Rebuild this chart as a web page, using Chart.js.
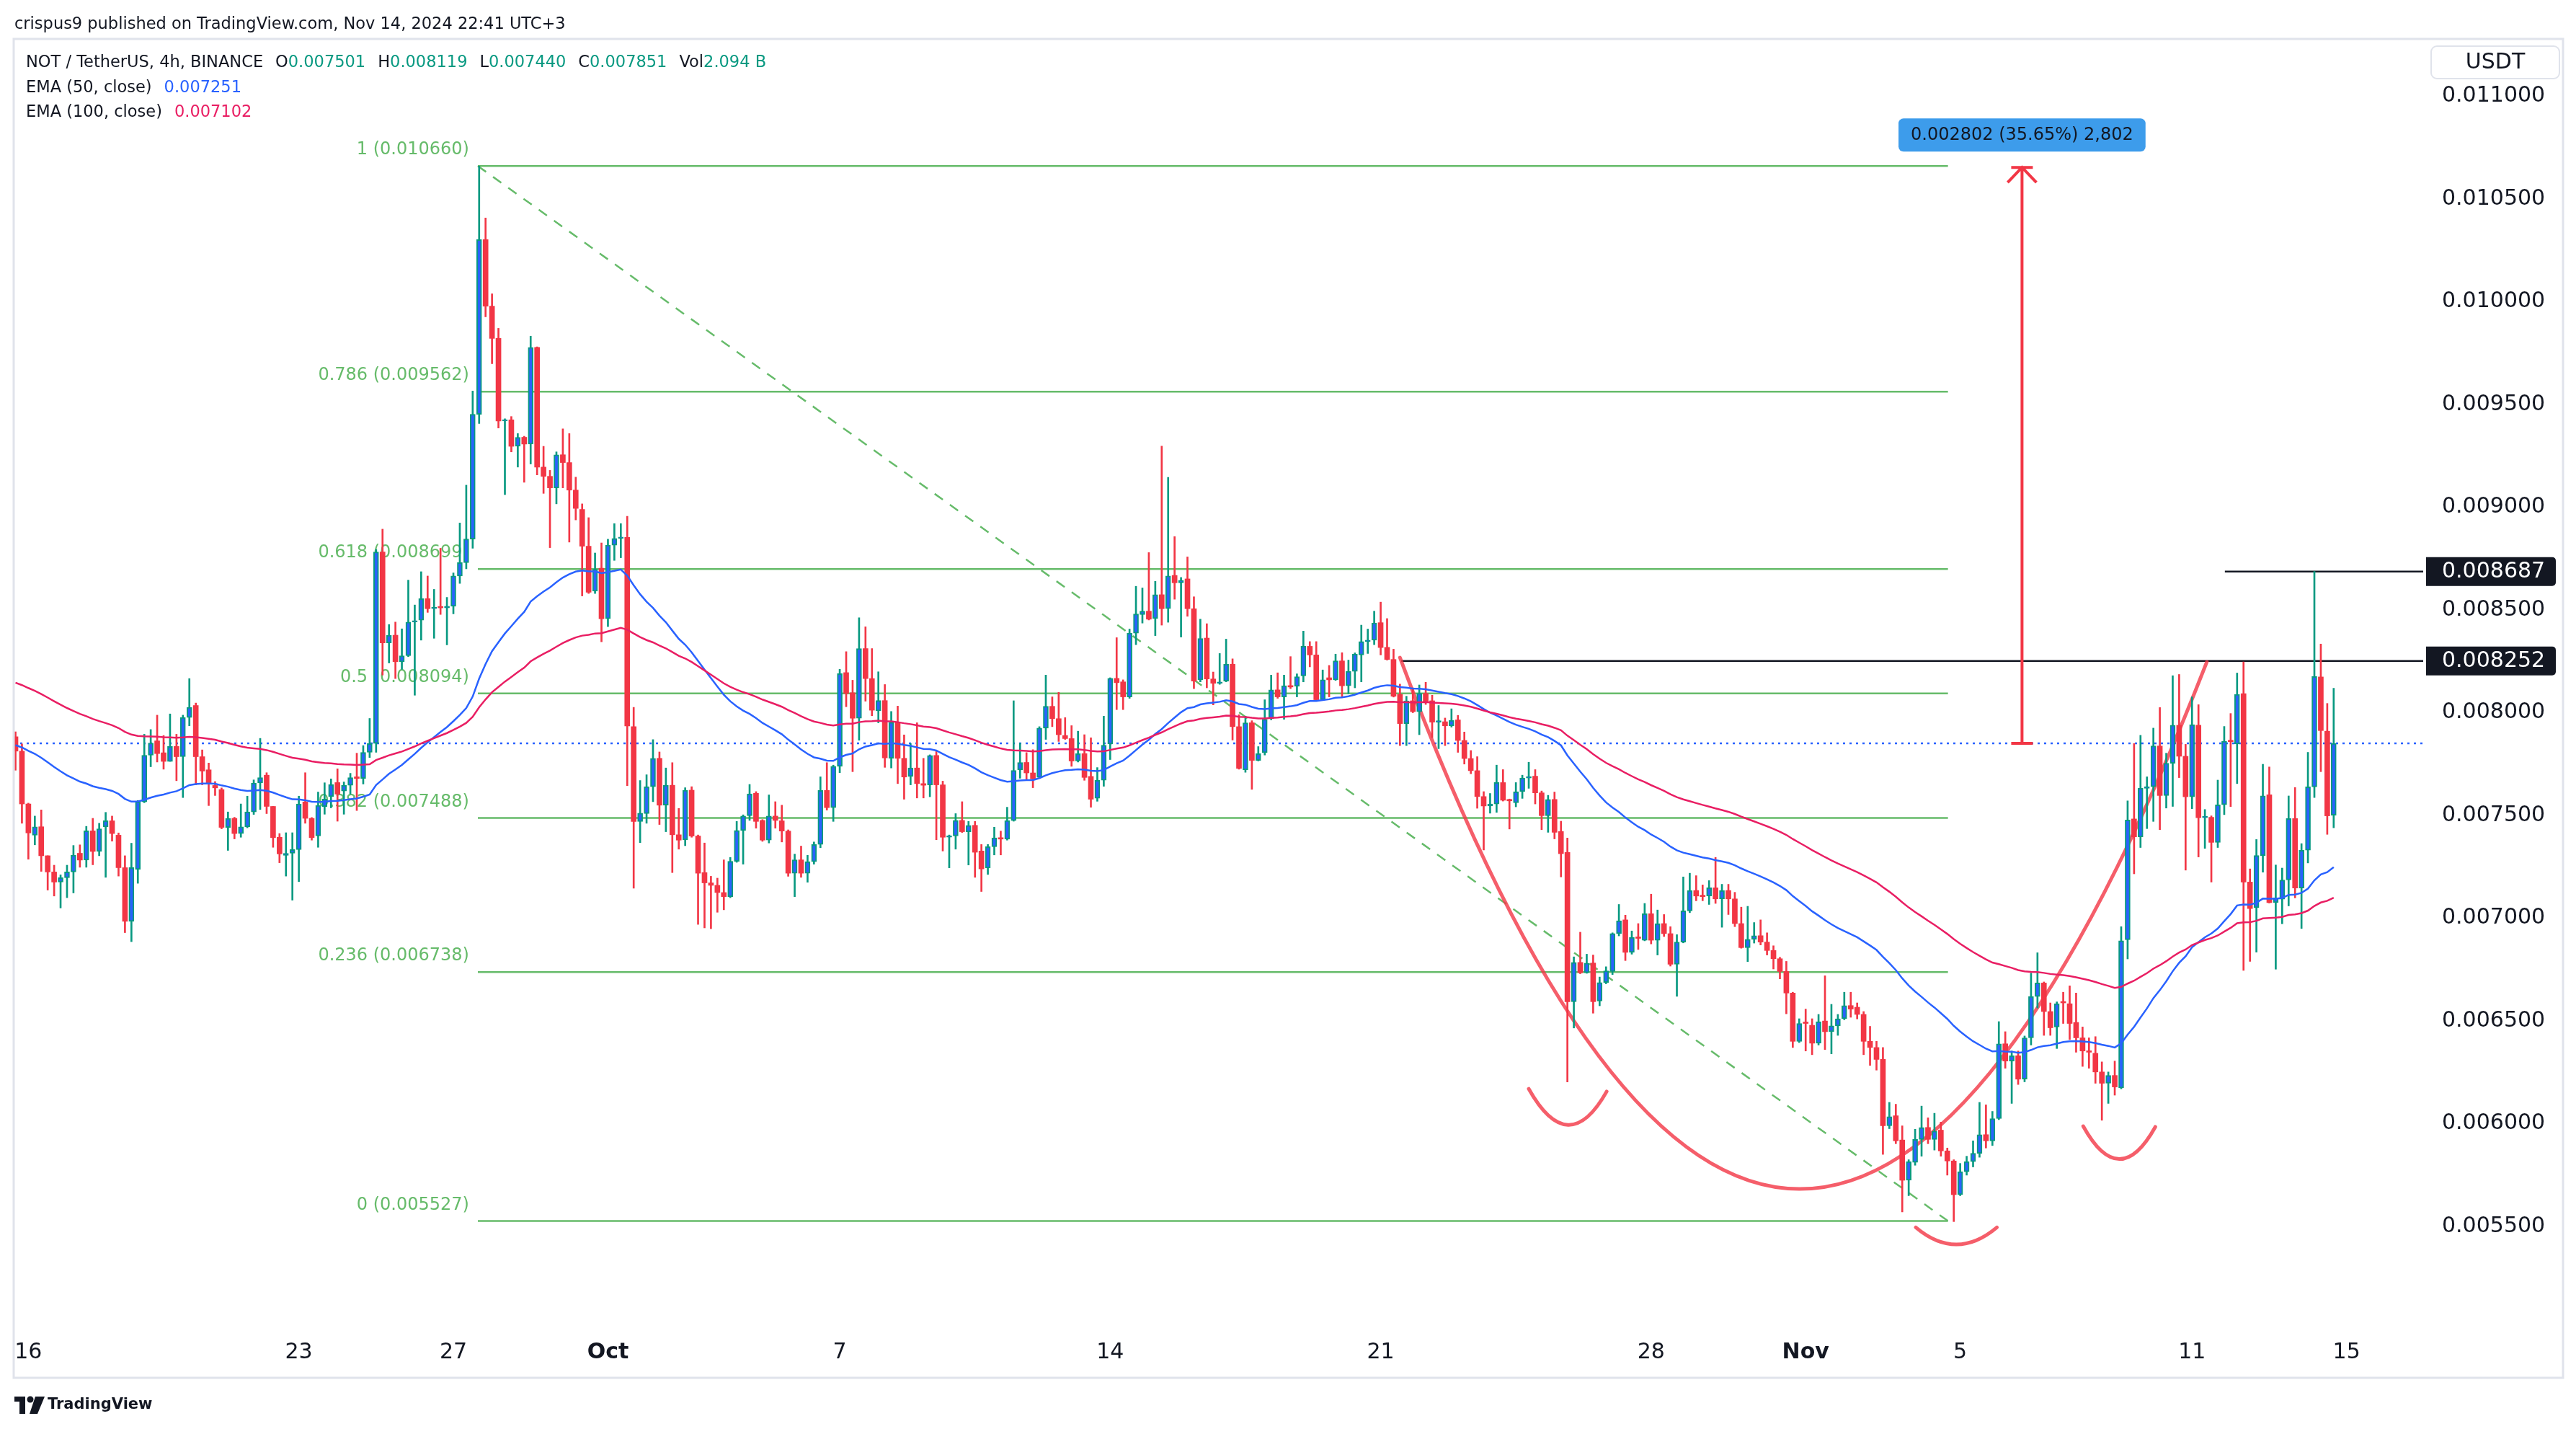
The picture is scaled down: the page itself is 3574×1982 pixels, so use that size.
<!DOCTYPE html>
<html>
<head>
<meta charset="utf-8">
<title>NOT / TetherUS, 4h</title>
<script src="https://cdn.jsdelivr.net/npm/chart.js@4.4.1/dist/chart.umd.min.js"></script>
<style>
  html, body { margin: 0; padding: 0; background: #ffffff; }
  #wrap { width: 3574px; height: 1982px; }
</style>
</head>
<body>
<div id="wrap"><canvas id="myChart" width="3574" height="1982"></canvas></div>
<script>
// 4h candles, prices in millionths of USDT (7851 = 0.007851)
const opens = [
  7883, 7813, 7556, 7404, 7445, 7304, 7225, 7176, 7197, 7225,
  7316, 7283, 7425, 7325, 7445, 7474, 7404, 7246, 6985, 7237,
  7566, 7793, 7863, 7805, 7763, 7836, 7786, 7977, 8035, 7786,
  7722, 7646, 7626, 7442, 7486, 7412, 7445, 7517, 7658, 7696,
  7544, 7394, 7306, 7316, 7334, 7566, 7486, 7400, 7543, 7592,
  7660, 7619, 7647, 7688, 7680, 7807, 7850, 8782, 8340, 8377,
  8248, 8277, 8441, 8450, 8555, 8506, 8512, 8510, 8518, 8665,
  8730, 8845, 9452, 10302, 9978, 9821, 9419, 9425, 9296, 9340,
  9307, 9777, 9195, 9150, 9094, 9255, 9217, 9083, 8989, 8810,
  8591, 8703, 8457, 8815, 8848, 8853, 7932, 7471, 7509, 7640,
  7778, 7550, 7647, 7406, 7382, 7623, 7400, 7222, 7172, 7160,
  7125, 7105, 7277, 7427, 7499, 7608, 7476, 7380, 7497, 7474,
  7424, 7219, 7284, 7219, 7275, 7359, 7622, 7538, 7739, 8195,
  8097, 7973, 8312, 8166, 8009, 8059, 7778, 7953, 7778, 7690,
  7731, 7655, 7649, 7792, 7649, 7394, 7400, 7476, 7421, 7452,
  7327, 7245, 7348, 7391, 7385, 7475, 7722, 7758, 7707, 7685,
  7925, 8031, 7971, 7889, 7874, 7765, 7801, 7690, 7584, 7671,
  7848, 8167, 8150, 8077, 8387, 8477, 8494, 8458, 8574, 8506,
  8668, 8632, 8651, 8506, 8160, 8363, 8164, 8143, 8154, 8236,
  7932, 7722, 7951, 7768, 7806, 7971, 8111, 8077, 8131, 8128,
  8179, 8323, 8281, 8063, 8170, 8160, 8252, 8131, 8201, 8281,
  8346, 8353, 8438, 8318, 8259, 8089, 7947, 8058, 8005, 8094,
  8058, 7954, 7956, 7936, 7965, 7865, 7777, 7718, 7592, 7546,
  7556, 7660, 7578, 7562, 7616, 7682, 7691, 7610, 7499, 7578,
  7422, 7320, 6594, 6785, 6735, 6782, 6597, 6687, 6741, 6925,
  6992, 6834, 6907, 6893, 7022, 6893, 6974, 6925, 6776, 6884,
  7036, 7135, 7110, 7108, 7148, 7094, 7135, 7094, 6974, 6857,
  6897, 6915, 6884, 6843, 6803, 6741, 6636, 6401, 6492, 6479,
  6392, 6500, 6448, 6476, 6511, 6575, 6567, 6532, 6401, 6371,
  6313, 5990, 6039, 5921, 5725, 5812, 5924, 5982, 5924, 5969,
  5868, 5819, 5655, 5767, 5816, 5856, 5947, 5917, 6025, 6389,
  6305, 6331, 6217, 6418, 6619, 6685, 6546, 6471, 6593, 6584,
  6493, 6418, 6354, 6343, 6252, 6197, 6235, 6174, 6895, 7483,
  7396, 7632, 7640, 7838, 7597, 7754, 7939, 7788, 7591, 7939,
  7489, 7491, 7369, 7552, 7866, 7848, 8093, 7176, 7051, 7305,
  7601, 7076, 7093, 7186, 7485, 7147, 7331, 7639, 8174, 7910,
  7501
];
const highs = [
  7907, 7848, 7560, 7497, 7527, 7304, 7258, 7211, 7258, 7354,
  7357, 7447, 7486, 7462, 7515, 7497, 7415, 7304, 7365, 7573,
  7895, 7918, 7988, 7889, 7994, 7895, 7988, 8166, 8047, 7819,
  7755, 7665, 7634, 7517, 7491, 7556, 7594, 7673, 7875, 7708,
  7544, 7412, 7416, 7416, 7594, 7708, 7490, 7614, 7659, 7678,
  7727, 7663, 7705, 7803, 7840, 7972, 8794, 8893, 8429, 8441,
  8408, 8645, 8524, 8686, 8665, 8600, 8800, 8561, 8680, 8923,
  9107, 9565, 10660, 10407, 10038, 9870, 9430, 9441, 9358, 9345,
  9832, 9780, 9296, 9179, 9269, 9381, 9358, 9146, 9016, 8949,
  8777, 8826, 8844, 8920, 8920, 8956, 8026, 7670, 7698, 7869,
  7809, 7731, 7757, 7534, 7635, 7640, 7405, 7366, 7204, 7195,
  7284, 7296, 7471, 7503, 7651, 7616, 7480, 7600, 7567, 7550,
  7430, 7312, 7351, 7306, 7371, 7688, 7757, 7745, 8211, 8297,
  8158, 8462, 8418, 8312, 8199, 8137, 8006, 8032, 7892, 7850,
  7951, 7778, 7795, 7813, 7667, 7405, 7509, 7567, 7471, 7471,
  7359, 7359, 7443, 7424, 7540, 8058, 7852, 7806, 7820, 7932,
  8183, 8077, 8099, 7976, 7937, 7910, 7893, 7878, 7733, 7983,
  8170, 8365, 8160, 8407, 8615, 8607, 8779, 8639, 9297, 9145,
  8857, 8658, 8758, 8564, 8455, 8433, 8198, 8288, 8358, 8262,
  7990, 7983, 7961, 7835, 8063, 8183, 8194, 8183, 8273, 8189,
  8397, 8346, 8346, 8208, 8230, 8285, 8292, 8256, 8291, 8426,
  8407, 8494, 8538, 8458, 8309, 8139, 8080, 8121, 8135, 8148,
  8085, 8035, 7974, 8019, 7987, 7906, 7816, 7786, 7616, 7607,
  7745, 7723, 7580, 7660, 7696, 7759, 7723, 7619, 7598, 7614,
  7472, 7390, 6812, 6932, 6825, 6821, 6714, 6764, 6929, 7067,
  7015, 6938, 6974, 7072, 7117, 7040, 7018, 6959, 6920, 7201,
  7219, 7207, 7162, 7183, 7296, 7165, 7165, 7126, 7054, 7058,
  6979, 6992, 6929, 6866, 6810, 6790, 6640, 6511, 6558, 6511,
  6532, 6720, 6581, 6532, 6640, 6640, 6588, 6546, 6474, 6401,
  6371, 6104, 6095, 5990, 5825, 5973, 6086, 6029, 6051, 6008,
  5882, 5825, 5807, 5842, 5917, 6104, 6092, 6060, 6497, 6448,
  6354, 6354, 6427, 6733, 6832, 6690, 6588, 6593, 6640, 6671,
  6636, 6471, 6418, 6424, 6301, 6252, 6305, 6959, 7571, 7850,
  7890, 7688, 7925, 8025, 7803, 8180, 8186, 7846, 8077, 8039,
  7529, 7498, 7672, 7933, 7996, 8193, 8247, 7240, 7383, 7749,
  7736, 7259, 7244, 7595, 7636, 7363, 7807, 8687, 8334, 8045,
  8119
];
const lows = [
  7720, 7462, 7287, 7357, 7228, 7137, 7108, 7050, 7100, 7123,
  7248, 7248, 7260, 7304, 7199, 7375, 7205, 6930, 6886, 7170,
  7562, 7737, 7760, 7725, 7763, 7669, 7587, 7936, 7649, 7649,
  7548, 7597, 7435, 7330, 7386, 7394, 7440, 7505, 7529, 7509,
  7345, 7270, 7205, 7088, 7178, 7462, 7380, 7345, 7506, 7537,
  7472, 7506, 7604, 7524, 7653, 7782, 7807, 8183, 8242, 8166,
  8211, 8273, 8085, 8353, 8488, 8362, 8478, 8330, 8481, 8629,
  8700, 8800, 9407, 9926, 9698, 9385, 9061, 9269, 9195, 9121,
  9210, 9157, 9067, 8803, 9016, 9094, 8830, 8938, 8568, 8580,
  8580, 8345, 8419, 8741, 8754, 7645, 7146, 7368, 7462, 7567,
  7456, 7421, 7222, 7336, 7353, 7394, 6970, 6953, 6949, 7029,
  7041, 7100, 7272, 7263, 7476, 7438, 7374, 7366, 7438, 7371,
  7204, 7105, 7199, 7175, 7263, 7343, 7526, 7471, 7708, 8029,
  7713, 7866, 8056, 7985, 7951, 7734, 7731, 7655, 7579, 7649,
  7585, 7585, 7591, 7382, 7327, 7245, 7336, 7417, 7259, 7199,
  7130, 7213, 7308, 7308, 7380, 7472, 7681, 7671, 7635, 7681,
  7870, 7932, 7860, 7870, 7739, 7760, 7671, 7540, 7569, 7642,
  7772, 8015, 8015, 8070, 8331, 8436, 8451, 8375, 8426, 8440,
  8552, 8368, 8469, 8117, 8150, 8121, 8038, 8138, 8150, 7867,
  7725, 7710, 7627, 7765, 7794, 7965, 8070, 7968, 8117, 8077,
  8150, 8223, 8060, 8060, 8077, 8157, 8077, 8092, 8121, 8150,
  8288, 8331, 8281, 8256, 8076, 7840, 7840, 8000, 7893, 8040,
  7879, 7825, 7840, 7930, 7807, 7750, 7703, 7535, 7332, 7511,
  7515, 7570, 7434, 7542, 7583, 7632, 7556, 7431, 7418, 7386,
  7201, 6203, 6466, 6730, 6732, 6538, 6574, 6681, 6726, 6914,
  6794, 6825, 6848, 6890, 6875, 6821, 6911, 6767, 6620, 6880,
  7027, 7085, 7085, 7067, 7072, 6956, 7018, 6959, 6854, 6789,
  6879, 6870, 6821, 6753, 6705, 6535, 6371, 6395, 6354, 6336,
  6383, 6361, 6340, 6430, 6506, 6518, 6510, 6336, 6284, 6261,
  5851, 5976, 5903, 5571, 5650, 5798, 5842, 5903, 5872, 5842,
  5750, 5524, 5650, 5750, 5790, 5837, 5882, 5894, 6020, 6270,
  6099, 6191, 6204, 6383, 6563, 6430, 6430, 6366, 6488, 6410,
  6348, 6279, 6270, 6197, 6017, 6099, 6139, 6170, 6802, 7216,
  7344, 7436, 7471, 7431, 7536, 7544, 7684, 7234, 7533, 7298,
  7340, 7176, 7344, 7504, 7543, 7655, 6746, 6790, 6835, 7224,
  7074, 6752, 6973, 7060, 7099, 6950, 7269, 7587, 7713, 7408,
  7440
];
const closes = [
  7813, 7556, 7415, 7445, 7304, 7225, 7176, 7197, 7225, 7307,
  7283, 7425, 7325, 7435, 7474, 7412, 7246, 6985, 7246, 7566,
  7793, 7852, 7801, 7763, 7836, 7786, 7977, 8026, 7786, 7716,
  7655, 7634, 7442, 7486, 7412, 7445, 7517, 7658, 7684, 7544,
  7392, 7313, 7316, 7334, 7556, 7486, 7392, 7549, 7580, 7651,
  7604, 7647, 7684, 7680, 7807, 7850, 8782, 8340, 8377, 8248,
  8277, 8441, 8448, 8555, 8506, 8510, 8510, 8518, 8665, 8730,
  8845, 9452, 10302, 9978, 9821, 9419, 9425, 9296, 9340, 9307,
  9777, 9195, 9150, 9094, 9255, 9217, 9083, 8994, 8810, 8586,
  8698, 8457, 8815, 8848, 8853, 7935, 7471, 7511, 7640, 7778,
  7550, 7647, 7406, 7380, 7623, 7400, 7219, 7172, 7160, 7125,
  7105, 7277, 7427, 7497, 7605, 7471, 7380, 7497, 7476, 7424,
  7219, 7284, 7219, 7275, 7359, 7622, 7538, 7739, 8190, 8094,
  7973, 8312, 8166, 8012, 8059, 7780, 7953, 7778, 7687, 7731,
  7655, 7647, 7792, 7649, 7394, 7400, 7476, 7421, 7452, 7321,
  7240, 7348, 7391, 7385, 7475, 7719, 7758, 7707, 7678, 7925,
  8031, 7971, 7893, 7874, 7765, 7801, 7685, 7579, 7671, 7842,
  8167, 8146, 8077, 8387, 8480, 8494, 8455, 8574, 8506, 8665,
  8632, 8644, 8506, 8154, 8361, 8164, 8143, 8150, 8236, 7932,
  7729, 7951, 7768, 7801, 7968, 8111, 8077, 8131, 8125, 8175,
  8323, 8281, 8063, 8160, 8160, 8252, 8131, 8201, 8285, 8346,
  8353, 8436, 8317, 8259, 8080, 7947, 8058, 8005, 8094, 8055,
  7954, 7960, 7936, 7963, 7865, 7777, 7718, 7592, 7546, 7556,
  7660, 7574, 7571, 7616, 7682, 7685, 7610, 7499, 7578, 7418,
  7314, 6594, 6785, 6735, 6782, 6594, 6687, 6744, 6925, 6988,
  6834, 6907, 6902, 7022, 6893, 6974, 6925, 6776, 6884, 7036,
  7135, 7108, 7105, 7148, 7094, 7135, 7094, 6974, 6857, 6897,
  6915, 6884, 6843, 6803, 6741, 6636, 6401, 6488, 6488, 6392,
  6497, 6448, 6476, 6511, 6575, 6558, 6532, 6401, 6371, 6313,
  5990, 6034, 5917, 5725, 5816, 5924, 5982, 5924, 5964, 5868,
  5819, 5655, 5767, 5816, 5856, 5947, 5917, 6025, 6389, 6305,
  6331, 6217, 6418, 6619, 6685, 6546, 6467, 6584, 6588, 6488,
  6418, 6354, 6348, 6252, 6197, 6235, 6179, 6890, 7478, 7396,
  7632, 7640, 7838, 7597, 7754, 7939, 7788, 7591, 7942, 7489,
  7491, 7369, 7552, 7861, 7859, 8089, 7176, 7047, 7305, 7595,
  7076, 7099, 7186, 7485, 7147, 7331, 7639, 8176, 7913, 7498,
  7851
];

// EMA values at the first visible candle
const EMA50_START = 0.007842;
const EMA100_START = 0.008146;

const dateTickPos = [2, 44, 68, 92, 128, 170, 212, 254, 278, 302, 338, 362];
const dateTickLabels = ['16', '23', '27', 'Oct', '7', '14', '21', '28', 'Nov', '5', '11', '15'];
const boldDateTicks = ['Oct', 'Nov'];
const priceTicks = [0.0055, 0.006, 0.0065, 0.007, 0.0075, 0.008, 0.0085, 0.009, 0.0095, 0.01, 0.0105, 0.011];

// drawings
const fibRatios = [1, 0.786, 0.618, 0.5, 0.382, 0.236, 0];
const fibPrices = [0.010660, 0.009562, 0.008699, 0.008094, 0.007488, 0.006738, 0.005527];
const fibFrom = 71.8, fibTo = 300.1;
const cupCurve = [[215, 0.008268], [276.3, 0.003108], [340.3, 0.008247]];
const shoulderArcs = [
  [[235, 0.006170], [241.15, 0.005826], [247.1, 0.006157]],
  [[295.1, 0.005496], [301.4, 0.005330], [307.7, 0.005496]],
  [[321.1, 0.005988], [326.7, 0.005670], [332.3, 0.005985]]
];
const levelLines = [{ price: 0.008687, from: 343.1 }, { price: 0.008252, from: 215.2 }];
const measure = { x: 311.6, from: 0.007851, to: 0.010653, text: '0.002802 (35.65%) 2,802' };

const headerText = 'crispus9 published on TradingView.com, Nov 14, 2024 22:41 UTC+3';
const symbolText = 'NOT / TetherUS, 4h, BINANCE';
const ohlcv = [['O', '0.007501'], ['H', '0.008119'], ['L', '0.007440'], ['C', '0.007851'], ['Vol', '2.094 B']];
const emaLegend = [['EMA (50, close)', '0.007251'], ['EMA (100, close)', '0.007102']];

const X_MIN = -0.28, X_MAX = 373.9;
const Y_MIN = 0.005006, Y_MAX = 0.0112746;

const UP = '#2962FF', UP_EDGE = '#089981', DOWN = '#F23645';
const EMA50_COLOR = '#2962FF', EMA100_COLOR = '#E91E63';
const FIB_GREEN = '#66BB6A', TEXT = '#131722', FONT = '"DejaVu Sans"';

function ema(values, period, seed) {
  const k = 2 / (period + 1);
  const out = [];
  let prev = seed;
  values.forEach((v, i) => {
    if (i > 0) prev = prev + k * (v - prev);
    out.push(prev);
  });
  return out;
}

document.addEventListener('DOMContentLoaded', () => {
  const P = v => v / 1e6;
  const o = opens.map(P), h = highs.map(P), l = lows.map(P), c = closes.map(P);
  const isUp = c.map((v, i) => v >= o[i]);

  const wickData = h.map((v, i) => ({ x: i, y: [l[i], v] }));
  const bodyData = o.map((v, i) => ({ x: i, y: [v, c[i]] }));
  const ema50 = ema(c, 50, EMA50_START).map((v, i) => ({ x: i, y: v }));
  const ema100 = ema(c, 100, EMA100_START).map((v, i) => ({ x: i, y: v }));
  const lastClose = c[c.length - 1];

  const drawings = {
    id: 'drawings',
    beforeDatasetsDraw(chart) {
      const { ctx, chartArea: a, scales: { x, y } } = chart;
      const px = v => x.getPixelForValue(v), py = v => y.getPixelForValue(v);
      ctx.save();
      ctx.beginPath();
      ctx.rect(a.left, a.top, a.right - a.left, a.bottom - a.top);
      ctx.clip();

      // fib retracement
      const fx0 = px(fibFrom), fx1 = px(fibTo);
      ctx.strokeStyle = FIB_GREEN;
      ctx.fillStyle = FIB_GREEN;
      ctx.lineWidth = 2.5;
      ctx.font = '24px ' + FONT;
      ctx.textAlign = 'right';
      ctx.textBaseline = 'middle';
      fibRatios.forEach((r, i) => {
        const yy = py(fibPrices[i]);
        ctx.beginPath();
        ctx.moveTo(fx0, yy);
        ctx.lineTo(fx1, yy);
        ctx.stroke();
        ctx.fillText(`${r} (${fibPrices[i].toFixed(6)})`, fx0 - 12, yy - 22);
      });
      ctx.setLineDash([14, 12]);
      ctx.beginPath();
      ctx.moveTo(fx0, py(fibPrices[0]));
      ctx.lineTo(fx1, py(fibPrices[fibPrices.length - 1]));
      ctx.stroke();
      ctx.setLineDash([]);

      // last price line
      ctx.strokeStyle = '#2962FF';
      ctx.lineWidth = 2.5;
      ctx.setLineDash([3, 6]);
      ctx.beginPath();
      ctx.moveTo(a.left, py(lastClose));
      ctx.lineTo(a.right, py(lastClose));
      ctx.stroke();
      ctx.setLineDash([]);

      // horizontal levels
      ctx.strokeStyle = TEXT;
      ctx.lineWidth = 2.5;
      levelLines.forEach(lv => {
        ctx.beginPath();
        ctx.moveTo(px(lv.from), py(lv.price));
        ctx.lineTo(a.right, py(lv.price));
        ctx.stroke();
      });

      // cup and head & shoulders arcs
      ctx.strokeStyle = 'rgba(242, 54, 69, 0.8)';
      ctx.lineWidth = 5;
      ctx.lineCap = 'round';
      [cupCurve, ...shoulderArcs].forEach(q => {
        ctx.beginPath();
        ctx.moveTo(px(q[0][0]), py(q[0][1]));
        ctx.quadraticCurveTo(px(q[1][0]), py(q[1][1]), px(q[2][0]), py(q[2][1]));
        ctx.stroke();
      });

      // measurement arrow
      const mx = px(measure.x), my0 = py(measure.from), my1 = py(measure.to);
      ctx.strokeStyle = DOWN;
      ctx.lineWidth = 4;
      ctx.lineCap = 'butt';
      ctx.beginPath();
      ctx.moveTo(mx, my0); ctx.lineTo(mx, my1);
      ctx.moveTo(mx - 15, my0); ctx.lineTo(mx + 15, my0);
      ctx.moveTo(mx - 15, my1); ctx.lineTo(mx + 15, my1);
      ctx.moveTo(mx - 20, my1 + 21); ctx.lineTo(mx, my1); ctx.lineTo(mx + 20, my1 + 21);
      ctx.stroke();
      ctx.restore();
    },
    afterDatasetsDraw(chart) {
      const { ctx, scales: { x, y } } = chart;
      const mx = x.getPixelForValue(measure.x), top = y.getPixelForValue(measure.to);
      ctx.save();
      ctx.font = '24px ' + FONT;
      const w = ctx.measureText(measure.text).width + 34;
      ctx.fillStyle = '#3D9CEB';
      ctx.beginPath();
      ctx.roundRect(mx - w / 2, top - 68, w, 46, 7);
      ctx.fill();
      ctx.fillStyle = TEXT;
      ctx.textAlign = 'center';
      ctx.textBaseline = 'middle';
      ctx.fillText(measure.text, mx, top - 44);
      ctx.restore();
    },
    afterDraw(chart) {
      const { ctx, chartArea: a, scales: { y } } = chart;
      ctx.save();
      // frame
      ctx.strokeStyle = '#E0E3EB';
      ctx.lineWidth = 3;
      ctx.strokeRect(19, 54, 3537, 1857);

      // header
      ctx.fillStyle = TEXT;
      ctx.textBaseline = 'middle';
      ctx.textAlign = 'left';
      ctx.font = '22.5px ' + FONT;
      ctx.fillText(headerText, 20, 34);

      // legend
      ctx.font = '22.5px ' + FONT;
      let lx = 36;
      ctx.fillStyle = TEXT;
      ctx.fillText(symbolText, lx, 87);
      lx += ctx.measureText(symbolText).width + 17;
      ohlcv.forEach(([k, v]) => {
        ctx.fillStyle = TEXT;
        ctx.fillText(k, lx, 87);
        lx += ctx.measureText(k).width;
        ctx.fillStyle = UP_EDGE;
        ctx.fillText(v, lx, 87);
        lx += ctx.measureText(v).width + 17;
      });
      [EMA50_COLOR, EMA100_COLOR].forEach((col, i) => {
        const yy = 122 + i * 34;
        ctx.fillStyle = TEXT;
        ctx.fillText(emaLegend[i][0], 36, yy);
        const w = ctx.measureText(emaLegend[i][0]).width;
        ctx.fillStyle = col;
        ctx.fillText(emaLegend[i][1], 36 + w + 17, yy);
      });

      // axis labels for the horizontal levels
      ctx.font = '30px ' + FONT;
      levelLines.forEach(lv => {
        const yy = y.getPixelForValue(lv.price);
        ctx.fillStyle = TEXT;
        ctx.beginPath();
        ctx.roundRect(a.right + 4, yy - 20, 180, 40, [0, 5, 5, 0]);
        ctx.fill();
        ctx.fillStyle = '#ffffff';
        ctx.fillText(lv.price.toFixed(6), 3388, yy + 1);
      });

      // currency box
      ctx.strokeStyle = '#E0E3EB';
      ctx.lineWidth = 2;
      ctx.beginPath();
      ctx.roundRect(3373, 64, 178, 45, 8);
      ctx.stroke();
      ctx.fillStyle = TEXT;
      ctx.textAlign = 'center';
      ctx.fillText('USDT', 3462, 87);

      // TradingView mark
      ctx.fillStyle = TEXT;
      ctx.fillRect(20, 1937, 15, 7);
      ctx.fillRect(27, 1937, 8, 24);
      ctx.beginPath();
      ctx.arc(42, 1941, 4.5, 0, Math.PI * 2);
      ctx.fill();
      ctx.beginPath();
      ctx.moveTo(49, 1937); ctx.lineTo(62, 1937); ctx.lineTo(52, 1961); ctx.lineTo(41, 1961);
      ctx.closePath();
      ctx.fill();
      ctx.textAlign = 'left';
      ctx.font = 'bold 21px ' + FONT;
      ctx.fillText('TradingView', 66, 1949);
      ctx.restore();
    }
  };

  const ctx = document.getElementById('myChart');
  new Chart(ctx, {
    type: 'bar',
    data: {
      datasets: [
        { type: 'line', label: 'EMA 100', data: ema100, borderColor: EMA100_COLOR, borderWidth: 2.5, pointRadius: 0, order: 0 },
        { type: 'line', label: 'EMA 50', data: ema50, borderColor: EMA50_COLOR, borderWidth: 2.5, pointRadius: 0, order: 0 },
        {
          label: 'body', data: bodyData, order: 1, grouped: false, barThickness: 7, minBarLength: 2,
          backgroundColor: isUp.map(u => (u ? UP : DOWN)),
          borderColor: isUp.map(u => (u ? UP_EDGE : DOWN)),
          borderWidth: isUp.map(u => (u ? 2 : 0)),
          borderSkipped: false
        },
        {
          label: 'wick', data: wickData, order: 2, grouped: false, barThickness: 2,
          backgroundColor: isUp.map(u => (u ? UP_EDGE : DOWN))
        }
      ]
    },
    options: {
      responsive: false,
      devicePixelRatio: 1,
      animation: false,
      layout: { padding: { left: 19, top: 55, right: 19, bottom: 71 } },
      plugins: { legend: { display: false }, tooltip: { enabled: false } },
      scales: {
        x: {
          type: 'linear', min: X_MIN, max: X_MAX, offset: false,
          grid: { display: false, drawTicks: false, offset: false },
          border: { display: false },
          afterFit: s => { s.height = 69; },
          afterBuildTicks: s => { s.ticks = dateTickPos.map(v => ({ value: v })); },
          ticks: {
            autoSkip: false, maxRotation: 0, padding: 16, color: TEXT,
            font: cx => ({ family: 'DejaVu Sans', size: 30, weight: boldDateTicks.includes(dateTickLabels[cx.index]) ? 'bold' : 'normal' }),
            callback: (v, i) => dateTickLabels[i]
          }
        },
        y: {
          position: 'right', min: Y_MIN, max: Y_MAX, beginAtZero: false,
          grid: { display: false, drawTicks: false },
          border: { display: false },
          afterFit: s => { s.width = 193; },
          afterBuildTicks: s => { s.ticks = priceTicks.map(v => ({ value: v })); },
          ticks: {
            autoSkip: false, padding: 26, crossAlign: 'near', color: TEXT,
            font: { family: 'DejaVu Sans', size: 30 },
            callback: v => v.toFixed(6)
          }
        }
      }
    },
    plugins: [drawings]
  });
});
</script>
</body>
</html>
